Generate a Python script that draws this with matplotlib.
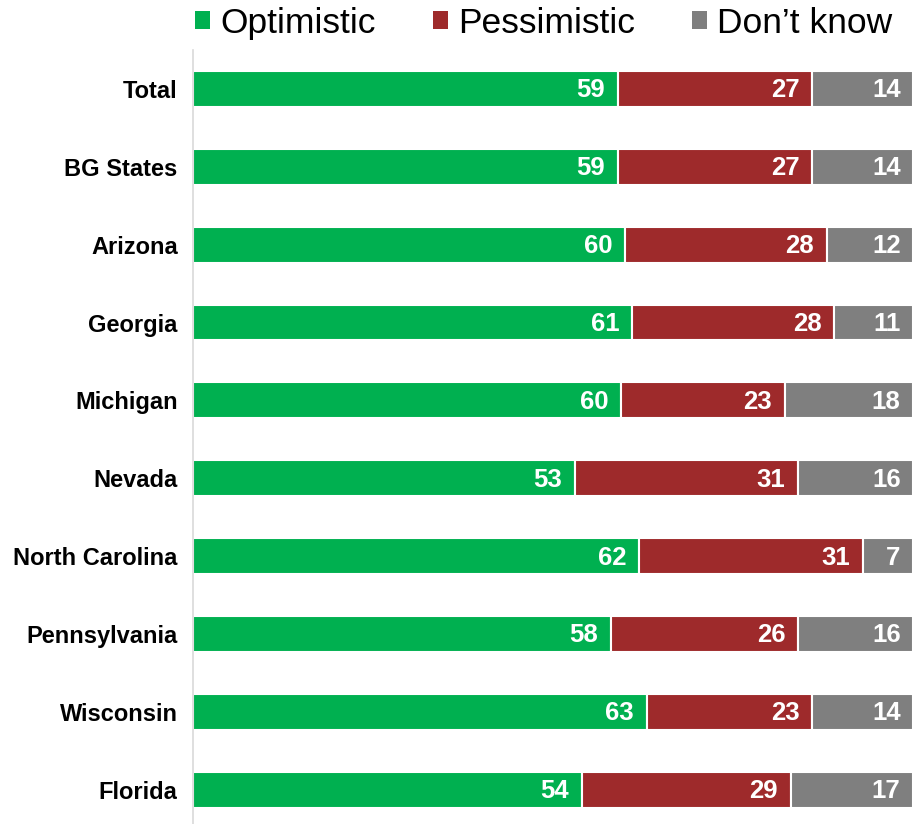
import numpy as np
import matplotlib
matplotlib.use("Agg")
from matplotlib import pyplot as plt
from matplotlib.patches import Patch

# data
states = ["Total", "BG States", "Arizona", "Georgia", "Michigan", "Nevada",
          "North Carolina", "Pennsylvania", "Wisconsin", "Florida"]
optimistic = [59, 59, 60, 61, 60, 53, 62, 58, 63, 54]
pessimistic = [27, 27, 28, 28, 23, 31, 31, 26, 23, 29]
dont_know = [14, 14, 12, 11, 18, 16, 7, 16, 14, 17]

series_names = ["Optimistic", "Pessimistic", "Don\u2019t know"]
colors = ["#00B050", "#9E2A2B", "#7F7F7F"]

plt.rcParams["font.family"] = ["Liberation Sans", "DejaVu Sans"]

fig = plt.figure(figsize=(9.14, 8.24), dpi=100)
ax = fig.add_axes([193 / 914, 0.0, 720 / 914, 774 / 824])

vals = np.array([optimistic, pessimistic, dont_know], dtype=float)
# scale each row so the bar fills the full width (rounded values may not sum to 100)
widths = vals / vals.sum(axis=0) * 100
y = np.arange(len(states))

left = np.zeros(len(states))
for i in range(3):
    bars = ax.barh(y, widths[i], left=left, height=0.46, color=colors[i],
                   edgecolor="white", linewidth=1.5)
    for j, b in enumerate(bars):
        ax.annotate(str(int(vals[i][j])), xy=(left[j] + widths[i][j], y[j]),
                    xytext=(-9, -1), textcoords="offset points",
                    ha="right", va="center", color="white",
                    fontsize=18.5, fontweight="bold")
    left += widths[i]

ax.set_xlim(0, 100)
ax.set_ylim(9.44, -0.5)
ax.set_yticks(y)
ax.set_yticklabels(states, fontsize=17, fontweight="bold")
ax.tick_params(axis="y", length=0, pad=11)
ax.set_xticks([])
for s in ["top", "right", "bottom"]:
    ax.spines[s].set_visible(False)
ax.spines["left"].set_color("#D9D9D9")
ax.spines["left"].set_linewidth(1.2)

handles = [Patch(facecolor=c, edgecolor="none") for c in colors]
fig.legend(handles, series_names, loc="center", bbox_to_anchor=(0.595, 0.972),
           ncol=3, frameon=False, fontsize=25.5, handlelength=0.42,
           handleheight=0.42, handletextpad=0.3, columnspacing=1.6,
           borderaxespad=0, borderpad=0)

fig.savefig("out.png", dpi=100)
